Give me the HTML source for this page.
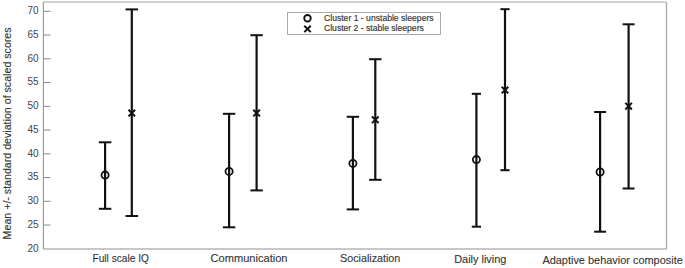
<!DOCTYPE html>
<html><head><meta charset="utf-8"><style>
html,body{margin:0;padding:0;background:#fff;width:685px;height:268px;overflow:hidden}
svg{display:block}
text{font-family:"Liberation Sans",sans-serif}
</style></head><body>
<svg width="685" height="268" viewBox="0 0 685 268">

<line x1="43.5" y1="2.0" x2="666.5" y2="2.0" stroke="#c4c4c4" stroke-width="1.6"/>
<line x1="666.5" y1="2" x2="666.5" y2="249" stroke="#aaaaaa" stroke-width="1.3"/>
<line x1="43.5" y1="249" x2="666.5" y2="249" stroke="#b4b4b4" stroke-width="1.5"/>
<line x1="43.4" y1="2" x2="43.4" y2="249" stroke="#9a9a9a" stroke-width="1.2"/>
<text x="38.6" y="251.50" font-size="10" fill="#444" text-anchor="end">20</text>
<line x1="43.5" y1="225.05" x2="50.5" y2="225.05" stroke="#888" stroke-width="1"/>
<text x="38.6" y="227.75" font-size="10" fill="#444" text-anchor="end">25</text>
<line x1="43.5" y1="201.30" x2="50.5" y2="201.30" stroke="#888" stroke-width="1"/>
<text x="38.6" y="204.00" font-size="10" fill="#444" text-anchor="end">30</text>
<line x1="43.5" y1="177.55" x2="50.5" y2="177.55" stroke="#888" stroke-width="1"/>
<text x="38.6" y="180.25" font-size="10" fill="#444" text-anchor="end">35</text>
<line x1="43.5" y1="153.80" x2="50.5" y2="153.80" stroke="#888" stroke-width="1"/>
<text x="38.6" y="156.50" font-size="10" fill="#444" text-anchor="end">40</text>
<line x1="43.5" y1="130.05" x2="50.5" y2="130.05" stroke="#888" stroke-width="1"/>
<text x="38.6" y="132.75" font-size="10" fill="#444" text-anchor="end">45</text>
<line x1="43.5" y1="106.30" x2="50.5" y2="106.30" stroke="#888" stroke-width="1"/>
<text x="38.6" y="109.00" font-size="10" fill="#444" text-anchor="end">50</text>
<line x1="43.5" y1="82.55" x2="50.5" y2="82.55" stroke="#888" stroke-width="1"/>
<text x="38.6" y="85.25" font-size="10" fill="#444" text-anchor="end">55</text>
<line x1="43.5" y1="58.80" x2="50.5" y2="58.80" stroke="#888" stroke-width="1"/>
<text x="38.6" y="61.50" font-size="10" fill="#444" text-anchor="end">60</text>
<line x1="43.5" y1="35.05" x2="50.5" y2="35.05" stroke="#888" stroke-width="1"/>
<text x="38.6" y="37.75" font-size="10" fill="#444" text-anchor="end">65</text>
<line x1="43.5" y1="11.30" x2="50.5" y2="11.30" stroke="#888" stroke-width="1"/>
<text x="38.6" y="14.00" font-size="10" fill="#444" text-anchor="end">70</text>
<line x1="105.1" y1="142.3" x2="105.1" y2="208.8" stroke="#111" stroke-width="2.2"/>
<line x1="98.85" y1="142.3" x2="111.35" y2="142.3" stroke="#111" stroke-width="2"/>
<line x1="98.85" y1="208.8" x2="111.35" y2="208.8" stroke="#111" stroke-width="2"/>
<circle cx="105.1" cy="175.1" r="3.6" fill="none" stroke="#111" stroke-width="1.8"/>
<line x1="131.8" y1="9.4" x2="131.8" y2="216.0" stroke="#111" stroke-width="2.2"/>
<line x1="125.55" y1="9.4" x2="138.05" y2="9.4" stroke="#111" stroke-width="2"/>
<line x1="125.55" y1="216.0" x2="138.05" y2="216.0" stroke="#111" stroke-width="2"/>
<path d="M128.50,109.80L135.10,116.40M128.50,116.40L135.10,109.80" stroke="#111" stroke-width="2"/>
<line x1="229.1" y1="113.8" x2="229.1" y2="227.3" stroke="#111" stroke-width="2.2"/>
<line x1="222.90" y1="113.8" x2="235.30" y2="113.8" stroke="#111" stroke-width="2"/>
<line x1="222.90" y1="227.3" x2="235.30" y2="227.3" stroke="#111" stroke-width="2"/>
<circle cx="229.1" cy="171.4" r="3.6" fill="none" stroke="#111" stroke-width="1.8"/>
<line x1="256.6" y1="35.2" x2="256.6" y2="190.4" stroke="#111" stroke-width="2.2"/>
<line x1="250.40" y1="35.2" x2="262.80" y2="35.2" stroke="#111" stroke-width="2"/>
<line x1="250.40" y1="190.4" x2="262.80" y2="190.4" stroke="#111" stroke-width="2"/>
<path d="M253.30,109.80L259.90,116.40M253.30,116.40L259.90,109.80" stroke="#111" stroke-width="2"/>
<line x1="352.9" y1="116.8" x2="352.9" y2="209.4" stroke="#111" stroke-width="2.2"/>
<line x1="346.70" y1="116.8" x2="359.10" y2="116.8" stroke="#111" stroke-width="2"/>
<line x1="346.70" y1="209.4" x2="359.10" y2="209.4" stroke="#111" stroke-width="2"/>
<circle cx="352.9" cy="163.4" r="3.6" fill="none" stroke="#111" stroke-width="1.8"/>
<line x1="375.3" y1="59.2" x2="375.3" y2="179.8" stroke="#111" stroke-width="2.2"/>
<line x1="369.10" y1="59.2" x2="381.50" y2="59.2" stroke="#111" stroke-width="2"/>
<line x1="369.10" y1="179.8" x2="381.50" y2="179.8" stroke="#111" stroke-width="2"/>
<path d="M372.00,116.50L378.60,123.10M372.00,123.10L378.60,116.50" stroke="#111" stroke-width="2"/>
<line x1="476.4" y1="93.8" x2="476.4" y2="226.7" stroke="#111" stroke-width="2.2"/>
<line x1="471.80" y1="93.8" x2="481.00" y2="93.8" stroke="#111" stroke-width="2"/>
<line x1="471.80" y1="226.7" x2="481.00" y2="226.7" stroke="#111" stroke-width="2"/>
<circle cx="476.4" cy="159.6" r="3.6" fill="none" stroke="#111" stroke-width="1.8"/>
<line x1="505.0" y1="9.2" x2="505.0" y2="170.2" stroke="#111" stroke-width="2.2"/>
<line x1="500.40" y1="9.2" x2="509.60" y2="9.2" stroke="#111" stroke-width="2"/>
<line x1="500.40" y1="170.2" x2="509.60" y2="170.2" stroke="#111" stroke-width="2"/>
<path d="M501.70,86.80L508.30,93.40M501.70,93.40L508.30,86.80" stroke="#111" stroke-width="2"/>
<line x1="600.1" y1="112.0" x2="600.1" y2="231.7" stroke="#111" stroke-width="2.2"/>
<line x1="594.15" y1="112.0" x2="606.05" y2="112.0" stroke="#111" stroke-width="2"/>
<line x1="594.15" y1="231.7" x2="606.05" y2="231.7" stroke="#111" stroke-width="2"/>
<circle cx="600.1" cy="172.0" r="3.6" fill="none" stroke="#111" stroke-width="1.8"/>
<line x1="628.6" y1="24.3" x2="628.6" y2="188.5" stroke="#111" stroke-width="2.2"/>
<line x1="622.65" y1="24.3" x2="634.55" y2="24.3" stroke="#111" stroke-width="2"/>
<line x1="622.65" y1="188.5" x2="634.55" y2="188.5" stroke="#111" stroke-width="2"/>
<path d="M625.30,102.90L631.90,109.50M625.30,109.50L631.90,102.90" stroke="#111" stroke-width="2"/>
<text x="120.7" y="261.6" font-size="10.1" fill="#333" stroke="#333" stroke-width="0.1" text-anchor="middle" textLength="56.5" lengthAdjust="spacingAndGlyphs">Full scale IQ</text>
<text x="249.0" y="261.7" font-size="10.1" fill="#333" stroke="#333" stroke-width="0.1" text-anchor="middle" textLength="77.0" lengthAdjust="spacingAndGlyphs">Communication</text>
<text x="370.2" y="262.2" font-size="10.1" fill="#333" stroke="#333" stroke-width="0.1" text-anchor="middle" textLength="60.2" lengthAdjust="spacingAndGlyphs">Socialization</text>
<text x="480.3" y="262.5" font-size="10.1" fill="#333" stroke="#333" stroke-width="0.1" text-anchor="middle" textLength="52.3" lengthAdjust="spacingAndGlyphs">Daily living</text>
<text x="612.6" y="264.0" font-size="10.1" fill="#333" stroke="#333" stroke-width="0.1" text-anchor="middle" textLength="140.4" lengthAdjust="spacingAndGlyphs">Adaptive behavior composite</text>
<text transform="translate(10.5,133.4) rotate(-90)" x="0" y="0" font-size="10.3" fill="#333" stroke="#333" stroke-width="0.12" text-anchor="middle" textLength="212" lengthAdjust="spacingAndGlyphs">Mean +/- standard deviation of scaled scores</text>
<rect x="287.5" y="12.5" width="153" height="22" fill="#fff" stroke="#aaa" stroke-width="1"/>
<circle cx="307.5" cy="18.3" r="3.3" fill="none" stroke="#111" stroke-width="1.8"/>
<path d="M304.30,25.70L310.70,32.10M304.30,32.10L310.70,25.70" stroke="#111" stroke-width="2"/>
<text x="324" y="21.0" font-size="8.6" fill="#333" stroke="#333" stroke-width="0.15" textLength="109.6" lengthAdjust="spacingAndGlyphs">Cluster 1 - unstable sleepers</text>
<text x="324" y="30.9" font-size="8.6" fill="#333" stroke="#333" stroke-width="0.15" textLength="99.8" lengthAdjust="spacingAndGlyphs">Cluster 2 - stable sleepers</text>
</svg>
</body></html>
